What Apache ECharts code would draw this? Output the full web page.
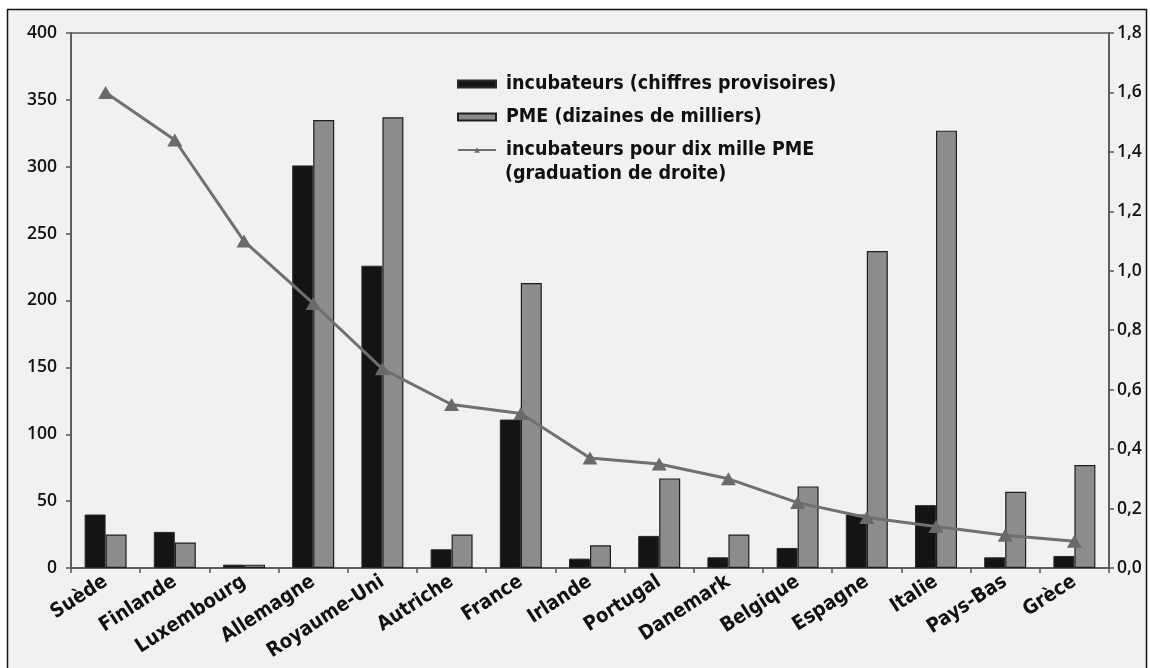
<!DOCTYPE html>
<html>
<head>
<meta charset="utf-8">
<script src="https://cdn.jsdelivr.net/npm/echarts@6/dist/echarts.min.js"></script>
<style>
  html, body { margin: 0; padding: 0; background: #fff; }
  #chart { width: 1150px; height: 668px; }
</style>
</head>
<body>
<div id="chart"></div>
<script>
// pays, dans l'ordre du graphique
const countries = ['Suède', 'Finlande', 'Luxembourg', 'Allemagne', 'Royaume-Uni', 'Autriche', 'France',
  'Irlande', 'Portugal', 'Danemark', 'Belgique', 'Espagne', 'Italie', 'Pays-Bas', 'Grèce'];

// incubateurs (chiffres provisoires)
const incubateurs = [40, 27, 2.5, 301, 226, 14, 111, 7, 24, 8, 15, 40, 47, 8, 9];
// PME (dizaines de milliers)
const pme = [25, 19, 2.5, 335, 337, 25, 213, 17, 67, 25, 61, 237, 327, 57, 77];
// incubateurs pour dix mille PME (échelle de droite)
const ratio = [1.60, 1.44, 1.10, 0.89, 0.67, 0.55, 0.52, 0.37, 0.35, 0.30, 0.22, 0.17, 0.14, 0.11, 0.09];

const leftTicks = [0, 400, 50];
const rightTicks = [0, 1.8, 0.2];

const names = ['incubateurs (chiffres provisoires)', 'PME (dizaines de milliers)', 'incubateurs pour dix mille PME'];

const numFont = "'Open Sans', 'Noto Sans', sans-serif";
const narrowFont = "'Liberation Sans Narrow', 'DejaVu Sans Condensed', sans-serif";

const chart = echarts.init(document.getElementById('chart'));

const option = {
  backgroundColor: '#ffffff',
  animation: false,
  graphic: [
    {
      type: 'rect',
      z: -10,
      shape: { x: 7.5, y: 9.5, width: 1139, height: 700 },
      style: { fill: '#f1f1f1', stroke: '#111', lineWidth: 1.5 },
    },
    {
      type: 'text',
      left: 505,
      top: 164,
      style: {
        text: '(graduation de droite)',
        fill: '#111',
        font: "bold 19.5px " + narrowFont,
      },
    },
  ],
  legend: {
    orient: 'vertical',
    left: 452,
    top: 68,
    itemWidth: 38,
    itemHeight: 7,
    itemGap: 11,
    data: [
      { name: names[0], icon: 'rect' },
      { name: names[1], icon: 'rect' },
      { name: names[2] },
    ],
    textStyle: {
      color: '#111',
      fontFamily: narrowFont,
      fontWeight: 'bold',
      fontSize: 19.5,
      lineHeight: 22,
      padding: [0, 0, 0, 5],
    },
  },
  grid: {
    left: 71,
    right: 41,
    top: 33,
    bottom: 100,
    show: true,
    borderColor: '#555',
    borderWidth: 1.5,
    backgroundColor: 'transparent',
  },
  xAxis: {
    type: 'category',
    data: countries,
    axisLine: { lineStyle: { color: '#555', width: 1.5 } },
    axisTick: { show: true, length: 5, lineStyle: { color: '#555', width: 1.5 } },
    axisLabel: {
      rotate: 33,
      margin: 12,
      color: '#111',
      fontFamily: narrowFont,
      fontWeight: 'bold',
      fontSize: 20,
    },
  },
  yAxis: [
    {
      type: 'value',
      min: leftTicks[0],
      max: leftTicks[1],
      interval: leftTicks[2],
      splitLine: { show: false },
      axisLine: { show: true, lineStyle: { color: '#555', width: 1.5 } },
      axisTick: { show: true, length: 5, lineStyle: { color: '#555', width: 1.5 } },
      axisLabel: {
        margin: 14,
        color: '#111',
        fontFamily: numFont,
        fontWeight: 600,
        fontSize: 17.5,
      },
    },
    {
      type: 'value',
      position: 'right',
      min: rightTicks[0],
      max: rightTicks[1],
      interval: rightTicks[2],
      splitLine: { show: false },
      axisLine: { show: true, lineStyle: { color: '#555', width: 1.5 } },
      axisTick: { show: true, length: 5, lineStyle: { color: '#555', width: 1.5 } },
      axisLabel: {
        margin: 8,
        color: '#111',
        fontFamily: numFont,
        fontWeight: 600,
        fontSize: 17.5,
        formatter: v => v.toFixed(1).replace('.', ','),
      },
    },
  ],
  series: [
    {
      name: names[0],
      type: 'bar',
      data: incubateurs,
      barWidth: 21,
      barGap: '0%',
      itemStyle: { color: '#141414', borderColor: '#2a2a2a', borderWidth: 1 },
    },
    {
      name: names[1],
      type: 'bar',
      data: pme,
      barWidth: 21,
      barGap: '0%',
      itemStyle: { color: '#8c8c8c', borderColor: '#1e1e1e', borderWidth: 1.2 },
    },
    {
      name: names[2],
      type: 'line',
      yAxisIndex: 1,
      data: ratio,
      symbol: 'triangle',
      symbolSize: [15, 13],
      showAllSymbol: true,
      lineStyle: { color: '#707070', width: 3 },
      itemStyle: { color: '#6a6a6a' },
      z: 5,
    },
  ],
};

chart.setOption(option);
</script>
</body>
</html>
